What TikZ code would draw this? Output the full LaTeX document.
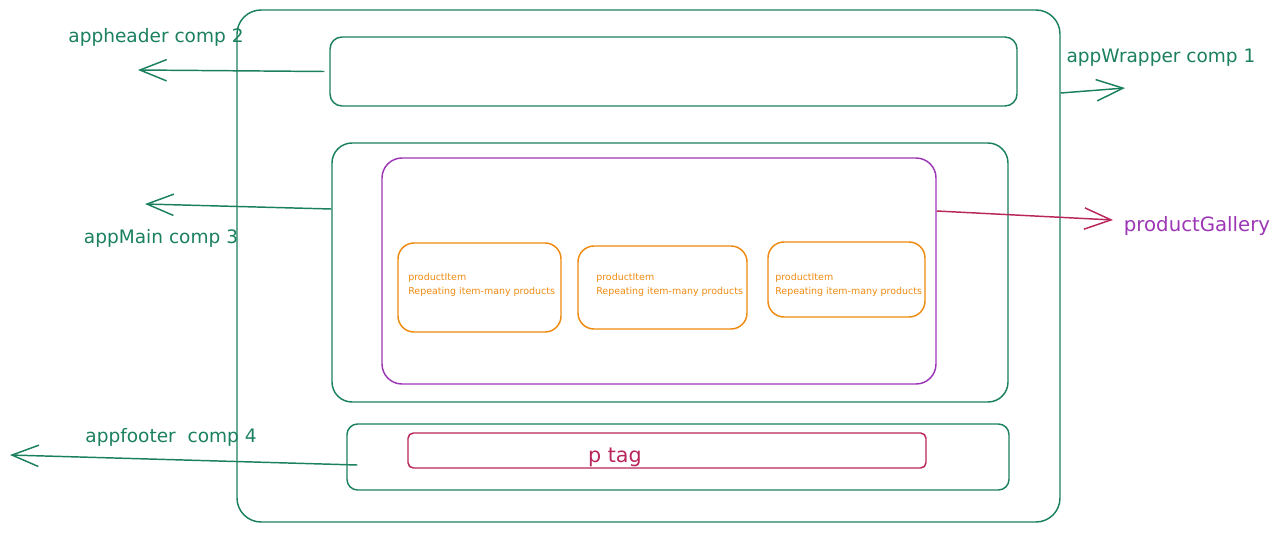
\documentclass[tikz,border=0pt]{standalone}
\usepackage{fontspec}
\setmainfont{DejaVu Sans}
\usetikzlibrary{arrows.meta,calc}
\definecolor{exgreen}{HTML}{1B8060}
\definecolor{expurple}{HTML}{9C36B5}
\definecolor{exorange}{HTML}{EE8A10}
\definecolor{excrimson}{HTML}{B8265C}
\newlength\pxu
\setlength\pxu{0.75pt}
\begin{document}
\begin{tikzpicture}[x=0.75pt,y=-0.75pt,
  box/.style={draw, line width=1.1pt, inner sep=0pt, fill=none},
  lbl/.style={font=\fontsize{13.9}{16}\selectfont, inner sep=0pt},
  itemtxt/.style={font=\fontsize{7.1}{10.5}\selectfont, text=exorange, align=left, inner sep=0pt, anchor=west},
  arr/.style={line width=1.1pt, -{Straight Barb[length=20pt,width=16pt,line width=1.1pt]}}
]
\useasboundingbox (0,0) rectangle (1278,532);
% boxes
\node[box, exgreen, rounded corners=18pt, minimum width=823\pxu, minimum height=512\pxu] (wrapper) at (648.5,266) {};
\node[box, exgreen, rounded corners=9pt, minimum width=687\pxu, minimum height=69\pxu] (header) at (673.5,71.5) {};
\node[box, exgreen, rounded corners=15pt, minimum width=676\pxu, minimum height=259\pxu] (main) at (670,272.5) {};
\node[box, expurple, rounded corners=15pt, minimum width=554\pxu, minimum height=226\pxu] (gallery) at (659,271) {};
\node[box, exorange, rounded corners=12pt, minimum width=163\pxu, minimum height=89\pxu] (item1) at (479.5,287.5) {};
\node[box, exorange, rounded corners=12pt, minimum width=169\pxu, minimum height=83\pxu] (item2) at (662.5,287.5) {};
\node[box, exorange, rounded corners=12pt, minimum width=157\pxu, minimum height=75\pxu] (item3) at (846.5,279.5) {};
\node[box, exgreen, rounded corners=8pt, minimum width=662\pxu, minimum height=66\pxu] (footer) at (678,457) {};
\node[box, excrimson, rounded corners=4pt, minimum width=518\pxu, minimum height=35\pxu] (ptag) at (667,450.5) {};
% item texts
\node[itemtxt] (t1) at (408,285) {productItem\\Repeating item-many products};
\node[itemtxt] (t2) at (596,285) {productItem\\Repeating item-many products};
\node[itemtxt] (t3) at (775,284.5) {productItem\\Repeating item-many products};
% labels
\node[lbl, text=exgreen] (lheader) at (156,37) {appheader comp 2};
\node[lbl, text=exgreen] (lwrapper) at (1161,58) {appWrapper comp 1};
\node[lbl, text=exgreen] (lmain) at (161,238) {appMain comp 3};
\node[lbl, text=exgreen] (lfooter) at (171,437) {appfooter\ \ comp 4};
\node[lbl, text=expurple, font=\fontsize{14.8}{16}\selectfont] (lgallery) at (1197,226) {productGallery};
\node[lbl, text=excrimson, font=\fontsize{15.5}{17}\selectfont] (lptag) at (615,457) {p tag};
% arrow ends
\coordinate (htip) at (138,70);
\coordinate (wtip) at (1125,88);
\coordinate (mtip) at (145,204);
\coordinate (gtip) at (1113,220);
\coordinate (ftip) at (10,455);
% arrows
\draw[arr, exgreen] ($(header.west)+(-5,0)$) -- (htip);
\draw[arr, exgreen] (wrapper.east |- 0,93) -- (wtip);
\draw[arr, exgreen] (main.west |- 0,209) -- (mtip);
\draw[arr, excrimson] (gallery.east |- 0,211) -- (gtip);
\draw[arr, exgreen] ($(footer.west)+(11,8)$) -- (ftip);
\end{tikzpicture}
\end{document}
